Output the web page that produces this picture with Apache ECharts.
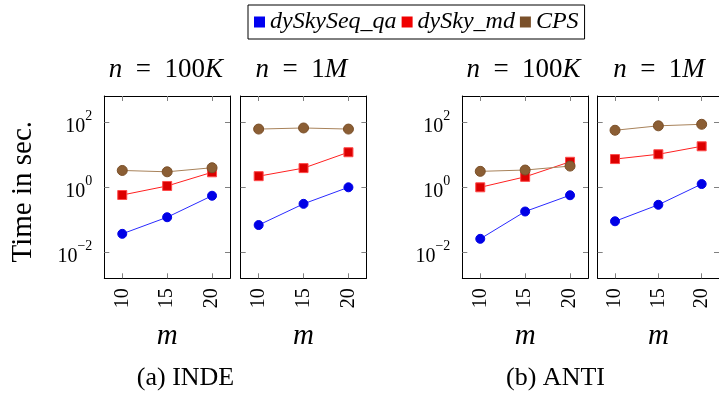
<!DOCTYPE html>
<html>
<head>
<meta charset="utf-8">
<script src="https://cdn.jsdelivr.net/npm/echarts@6/dist/echarts.min.js"></script>
<style>
html,body{margin:0;padding:0;background:#fff;}
#chart{width:719px;height:394px;}
</style>
</head>
<body>
<div id="chart"></div>
<script>
// ---- data ----
const mValues = [10, 15, 20];
const seriesNames = ['dySkySeq_qa', 'dySky_md', 'CPS'];
const panelTitles = ['100K', '1M', '100K', '1M'];
const captions = ['(a) INDE', '(b) ANTI'];
const yTickValues = [0.01, 1, 100];
const xTickValues = [10, 15, 20];

const seqInde100K = [0.037, 0.12, 0.55];
const mdInde100K  = [0.58, 1.1, 2.9];
const cpsInde100K = [3.3, 3.0, 4.0];

const seqInde1M = [0.069, 0.31, 1.0];
const mdInde1M  = [2.2, 3.9, 12];
const cpsInde1M = [62, 67, 62];

const seqAnti100K = [0.026, 0.18, 0.57];
const mdAnti100K  = [1.0, 2.1, 6.1];
const cpsAnti100K = [3.1, 3.4, 4.5];

const seqAnti1M = [0.09, 0.29, 1.26];
const mdAnti1M  = [7.4, 10.4, 18.3];
const cpsAnti1M = [57, 78, 87];

const panels = [
  [seqInde100K, mdInde100K, cpsInde100K],
  [seqInde1M, mdInde1M, cpsInde1M],
  [seqAnti100K, mdAnti100K, cpsAnti100K],
  [seqAnti1M, mdAnti1M, cpsAnti1M]
];

// ---- layout / style ----
const FONT = "'Liberation Serif', 'Times New Roman', serif";
const gridLefts = [104.3, 240.7, 462.3, 597.7];
const gridWidth = 125.7;
const gridTop = 96;
const gridHeight = 182.3;
const Y_MIN = Math.pow(10, -2.8);
const Y_MAX = Math.pow(10, 2.81);

const styles = [
  { symbol: 'circle', size: 9, fill: '#0000e6', border: '#0000e6', line: '#2a2aff', legend: '#0000f0' },
  { symbol: 'rect', size: 9, fill: '#dc0000', border: '#ff4a4a', line: '#ff2020', legend: '#f00000' },
  { symbol: 'circle', size: 10, fill: '#8b5e34', border: '#7a4f28', line: '#a8825a', legend: '#7a502a' }
];

function logLabel(v) {
  const e = Math.round(Math.log10(v));
  return '{b|10}{s|' + (e < 0 ? '\u2212' + (-e) : e) + '}';
}
const labelRich = {
  b: { fontSize: 20, fontFamily: FONT, color: '#000', padding: [8, 0, 0, 0], verticalAlign: 'top' },
  s: { fontSize: 14, fontFamily: FONT, color: '#000', padding: [1, 0, 0, 0], verticalAlign: 'top' }
};

const tickStyle = { show: true, inside: true, length: 5, lineStyle: { color: '#808080', width: 1 } };
const lineStyle = { show: true, lineStyle: { color: '#000', width: 1 } };

const grid = [], xAxis = [], yAxis = [], series = [];
gridLefts.forEach((left, p) => {
  grid.push({ left: left, top: gridTop, width: gridWidth, height: gridHeight });
  xAxis.push({
    type: 'value', gridIndex: p, position: 'bottom', min: 8, max: 22,
    axisLine: lineStyle, splitLine: { show: false },
    axisTick: Object.assign({ customValues: xTickValues }, tickStyle),
    axisLabel: { customValues: xTickValues, rotate: 90, margin: 10, fontSize: 20, fontFamily: FONT, color: '#000' },
    name: 'm', nameLocation: 'middle', nameGap: 44,
    nameTextStyle: { fontSize: 29, fontFamily: FONT, fontStyle: 'italic', color: '#000' }
  });
  xAxis.push({
    type: 'value', gridIndex: p, position: 'top', min: 8, max: 22,
    axisLine: lineStyle, splitLine: { show: false },
    axisTick: Object.assign({ customValues: xTickValues }, tickStyle),
    axisLabel: { show: false }
  });
  yAxis.push({
    type: 'log', logBase: 10, gridIndex: p, position: 'left', min: Y_MIN, max: Y_MAX,
    axisLine: lineStyle, splitLine: { show: false }, minorTick: { show: false },
    axisTick: Object.assign({ customValues: yTickValues }, tickStyle),
    axisLabel: { show: p === 0 || p === 2, customValues: yTickValues, margin: 12, fontFamily: FONT, formatter: logLabel, rich: labelRich }
  });
  yAxis.push({
    type: 'log', logBase: 10, gridIndex: p, position: 'right', min: Y_MIN, max: Y_MAX,
    axisLine: lineStyle, splitLine: { show: false },
    axisTick: Object.assign({ customValues: yTickValues }, tickStyle),
    axisLabel: { show: false }
  });
  panels[p].forEach((vals, s) => {
    const st = styles[s];
    series.push({
      name: seriesNames[s], type: 'line',
      xAxisIndex: p * 2, yAxisIndex: p * 2,
      data: mValues.map((m, i) => [m, vals[i]]),
      symbol: st.symbol, symbolSize: st.size,
      itemStyle: { color: st.fill, borderColor: st.border, borderWidth: 1 },
      lineStyle: { color: st.line, width: 1 }
    });
  });
});

const graphics = [];
const titleCenters = [165.9, 301.3, 523.5, 659];
panelTitles.forEach((t, p) => {
  graphics.push({
    type: 'text', x: titleCenters[p], y: 69.5,
    style: {
      text: '{i|n}  =  ' + t.replace(/([KM])/, '{i|$1}'),
      align: 'center', verticalAlign: 'middle',
      fontFamily: FONT, fontSize: 27, fill: '#000',
      rich: { i: { fontStyle: 'italic', fontSize: 27, fontFamily: FONT } }
    }
  });
});
const captionX = [185.5, 555.5];
captions.forEach((c, i) => {
  graphics.push({
    type: 'text', x: captionX[i], y: 378,
    style: { text: c, align: 'center', verticalAlign: 'middle', fontFamily: FONT, fontSize: 26, fill: '#000' }
  });
});
graphics.push({
  type: 'text', x: 23.3, y: 191.7, rotation: Math.PI / 2,
  style: { text: 'Time in sec.', align: 'center', verticalAlign: 'middle', fontFamily: FONT, fontSize: 29, fill: '#000' }
});

const option = {
  animation: false,
  legend: {
    data: seriesNames.map((n, i) => ({ name: n, itemStyle: { color: styles[i].legend, borderWidth: 0 } })),
    left: 248, top: 5,
    icon: 'rect', itemWidth: 11, itemHeight: 11, itemGap: 5,
    padding: [5, 6, 5, 6],
    borderColor: '#000', borderWidth: 1, borderRadius: 0,
    selectedMode: false,
    textStyle: { fontFamily: FONT, fontStyle: 'italic', fontSize: 24, color: '#000' }
  },
  grid: grid, xAxis: xAxis, yAxis: yAxis, series: series,
  graphic: graphics
};

const chart = echarts.init(document.getElementById('chart'));
chart.setOption(option);
</script>
</body>
</html>
